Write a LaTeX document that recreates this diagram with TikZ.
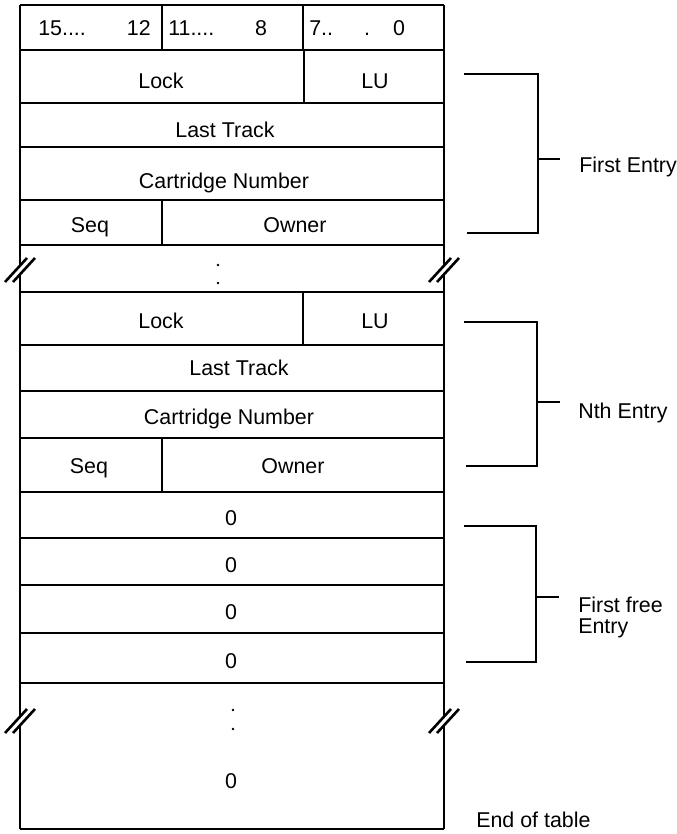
\documentclass[tikz,border=0pt]{standalone}
\usepackage{fontspec}
\setmainfont{Liberation Sans}
\begin{document}
\begin{tikzpicture}[x=0.5pt,y=-0.5pt,
  line width=1.3pt, line cap=butt,
  txt/.style={inner sep=0pt, anchor=base, font=\fontsize{10.7}{13}\selectfont},
  brk/.style={line width=1.3pt},
  brace/.style={line width=1.3pt},
  dotmark/.style={fill=black}]
\useasboundingbox (0,0) rectangle (676,834);
% horizontal lines of the table
\foreach \yy in {5,50,103,147,200,245,292,345,391,438,492,538,585,633,683,829}
  \draw (20,\yy) -- (444,\yy);
% outer verticals with breaks
\draw (20,5) -- (20,266); \draw (20,274) -- (20,717); \draw (20,725) -- (20,829);
\draw (444,5) -- (444,266); \draw (444,274) -- (444,717); \draw (444,725) -- (444,829);
% break marks
\foreach \xo in {0,424}{
  \draw[brk] (5+\xo,282) -- (27+\xo,258);
  \draw[brk] (13+\xo,282) -- (35+\xo,258);
  \draw[brk] (5+\xo,733) -- (27+\xo,709);
  \draw[brk] (13+\xo,733) -- (35+\xo,709);
}
% inner dividers
\draw (162,5) -- (162,50);
\draw (303,5) -- (303,50);
\draw (304,50) -- (304,103);
\draw (162,200) -- (162,245);
\draw (303,292) -- (303,345);
\draw (162,438) -- (162,492);
% header
\node[txt, anchor=base west] (h15) at (37,36) {15....};
\node[txt, anchor=base east] (h12) at (152,36) {12};
\node[txt, anchor=base west] (h11) at (167,36) {11....};
\node[txt] (h8) at (261,36) {8};
\node[txt, anchor=base west] (h7) at (308,36) {7..};
\node[txt] (hd) at (367,36) {.};
\node[txt] (h0) at (399,36) {0};
% first entry
\node[txt] (lock1) at (161,89) {Lock};
\node[txt] (lu1) at (375,89) {LU};
\node[txt] (lt1) at (225,138) {Last Track};
\node[txt] (cn1) at (224,189) {Cartridge Number};
\node[txt] (seq1) at (90,233) {Seq};
\node[txt] (own1) at (295,233) {Owner};
% break 1 dots
\fill[dotmark] (218,265) circle (1.4);
\fill[dotmark] (218,283) circle (1.4);
% nth entry
\node[txt] (lock2) at (161,328) {Lock};
\node[txt] (lu2) at (375,328) {LU};
\node[txt] (lt2) at (239,375) {Last Track};
\node[txt] (cn2) at (229,424) {Cartridge Number};
\node[txt] (seq2) at (89,473) {Seq};
\node[txt] (own2) at (293,473) {Owner};
% free entries
\node[txt] (z1) at (231,525) {0};
\node[txt] (z2) at (231,572) {0};
\node[txt] (z3) at (231,619) {0};
\node[txt] (z4) at (231,668) {0};
\fill[dotmark] (233,710) circle (1.4);
\fill[dotmark] (233,729) circle (1.4);
\node[txt] (z5) at (231,788) {0};
% brackets
\draw[brace] (464,74) -- (538,74) -- (538,233) -- (467,233);
\draw[brace] (538,159) -- (560,159);
\node[txt, anchor=base west] (fe) at (578,173) {First Entry};
\draw[brace] (464,322) -- (537,322) -- (537,466) -- (466,466);
\draw[brace] (537,402) -- (560,402);
\node[txt, anchor=base west] (ne) at (577,418) {Nth Entry};
\draw[brace] (464,526) -- (536,526) -- (536,662) -- (466,662);
\draw[brace] (536,597) -- (559,597);
\node[txt, anchor=base west] (ffe1) at (577,612) {First free};
\node[txt, anchor=base west] (ffe2) at (577,633) {Entry};
\node[txt, anchor=base west] (eot) at (475,827) {End of table};
\end{tikzpicture}
\end{document}
